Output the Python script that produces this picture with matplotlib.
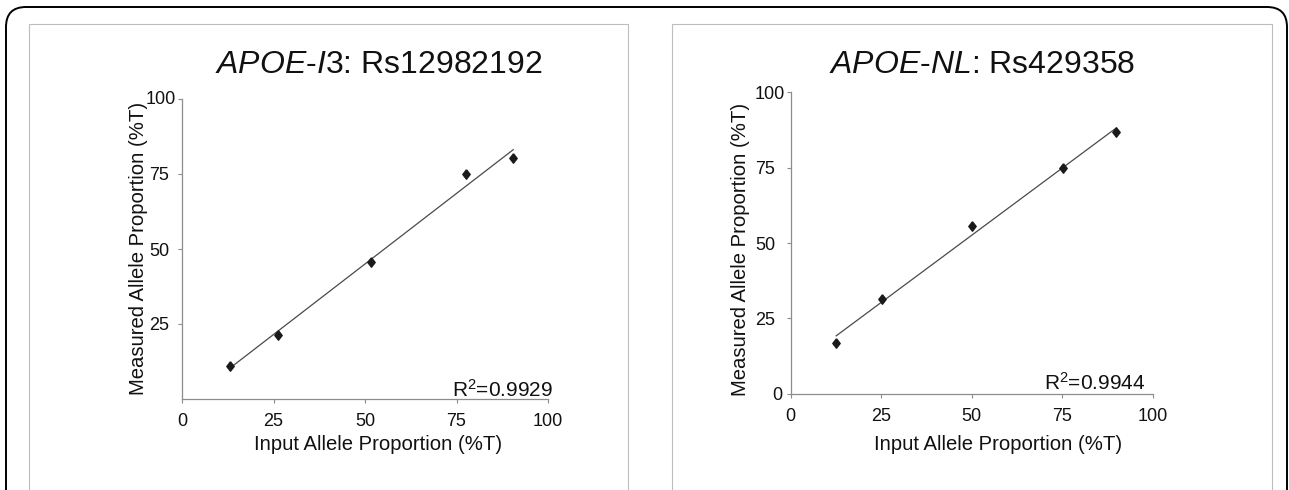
import numpy as np
import matplotlib
matplotlib.use("Agg")
import matplotlib.pyplot as plt
from matplotlib.patches import FancyBboxPatch, Rectangle
from matplotlib.transforms import IdentityTransform, Affine2D

plt.rcParams['font.family'] = ['Liberation Sans', 'DejaVu Sans']
plt.rcParams['mathtext.fontset'] = 'custom'
plt.rcParams['mathtext.rm'] = 'Liberation Sans'
plt.rcParams['mathtext.it'] = 'Liberation Sans:italic'
plt.rcParams['mathtext.bf'] = 'Liberation Sans:bold'

# ---- data ----
left_input = [13.2, 26.1, 51.7, 77.6, 90.5]
left_measured = [11.1, 21.4, 45.7, 75.1, 80.3]
right_input = [12.6, 25.2, 50.0, 75.1, 89.9]
right_measured = [16.9, 31.3, 55.7, 74.8, 86.7]

left_title = r"$\mathit{APOE}$-$\mathit{I3}$: Rs12982192"
right_title = r"$\mathit{APOE}$-$\mathit{NL}$: Rs429358"
left_r2 = r"$\mathrm{R}^{2}$=0.9929"
right_r2 = r"$\mathrm{R}^{2}$=0.9944"
xlabel = "Input Allele Proportion (%T)"
ylabel = "Measured Allele Proportion (%T)"
xticks = [0, 25, 50, 75, 100]
left_yticks = [25, 50, 75, 100]
right_yticks = [0, 25, 50, 75, 100]

W, H = 1289, 490
fig = plt.figure(figsize=(W / 100, H / 100), dpi=100)
fig.patch.set_facecolor('white')

# outer rounded frame (pixel coords)
fig.patches.append(FancyBboxPatch((6, -40), 1281, 523,
                                  boxstyle="round,pad=0,rounding_size=20",
                                  transform=IdentityTransform(), fill=False,
                                  edgecolor='black', linewidth=1.4, figure=fig))
# inner panel boxes
for x0, x1 in [(29, 628), (672, 1272)]:
    fig.patches.append(Rectangle((x0, -10), x1 - x0, 476, transform=IdentityTransform(),
                                 fill=False, edgecolor='#bdbdbd', linewidth=0.8, figure=fig))

diamond = [(0, 1), (0.78, 0), (0, -1), (-0.78, 0), (0, 1)]


def panel(rect, xs, ys, yticks, title, title_xy, r2, r2_xy, xlab_xy, ylab_xy, ypad,
          ylabel_shift):
    ax = fig.add_axes(rect)
    ax.set_xlim(0, 100)
    ax.set_ylim(0, 100)
    for s in ['top', 'right']:
        ax.spines[s].set_visible(False)
    for s in ['left', 'bottom']:
        ax.spines[s].set_color('#8c8c8c')
        ax.spines[s].set_linewidth(0.9)
    ax.set_xticks(xticks)
    ax.set_yticks(yticks)
    ax.tick_params(axis='both', direction='out', length=3, width=0.8, color='#8c8c8c',
                   labelsize=13, labelcolor='#111111')
    ax.tick_params(axis='x', pad=7)
    ax.tick_params(axis='y', pad=ypad)
    ax.patch.set_alpha(0)
    # fit line
    k, b = np.polyfit(xs, ys, 1)
    xl = np.array([min(xs), max(xs)])
    ax.plot(xl, k * xl + b, color='#4a4a4a', linewidth=0.9, clip_on=False)
    ax.plot(xs, ys, linestyle='none', marker=diamond, markersize=6.8,
            color='#1a1a1a', clip_on=False)
    ax.set_xlabel(xlabel, fontsize=14.6, color='#111111')
    ax.set_ylabel(ylabel, fontsize=14.6, color='#111111')
    ax.xaxis.set_label_coords(*xlab_xy)
    ax.yaxis.set_label_coords(*ylab_xy)
    ax.xaxis.label.set_va('center')
    ax.yaxis.label.set_va('center')
    ax.text(r2_xy[0], r2_xy[1], r2, ha='right', va='baseline', fontsize=15,
            color='#111111', transform=ax.transData, clip_on=False)
    fig.text(title_xy[0] / W, 1 - title_xy[1] / H, title, ha='center', va='baseline',
             fontsize=23, color='#111111')
    # small per-label offsets seen in the reference
    for tick, val in zip(ax.yaxis.get_major_ticks(), yticks):
        if val in ylabel_shift:
            dx, dy = ylabel_shift[val]
            lab = tick.label1
            lab.set_transform(lab.get_transform() + Affine2D().translate(dx, dy))
    return ax


panel([182 / W, (H - 399) / H, 366 / W, 300 / H], left_input, left_measured, left_yticks,
      left_title, (379, 73), left_r2, (101.5, 0.8),
      (0.536, -0.15), (-0.1175, 0.502), 6, {100: (6, 2)})
panel([790.5 / W, (H - 393.7) / H, 362.5 / W, 301.4 / H], right_input, right_measured,
      right_yticks, right_title, (982, 73), right_r2, (97.8, 1.2),
      (0.573, -0.167), (-0.139, 0.48), 8, {100: (10, 0), 0: (7, 0)})

fig.savefig("out.png", dpi=100)
